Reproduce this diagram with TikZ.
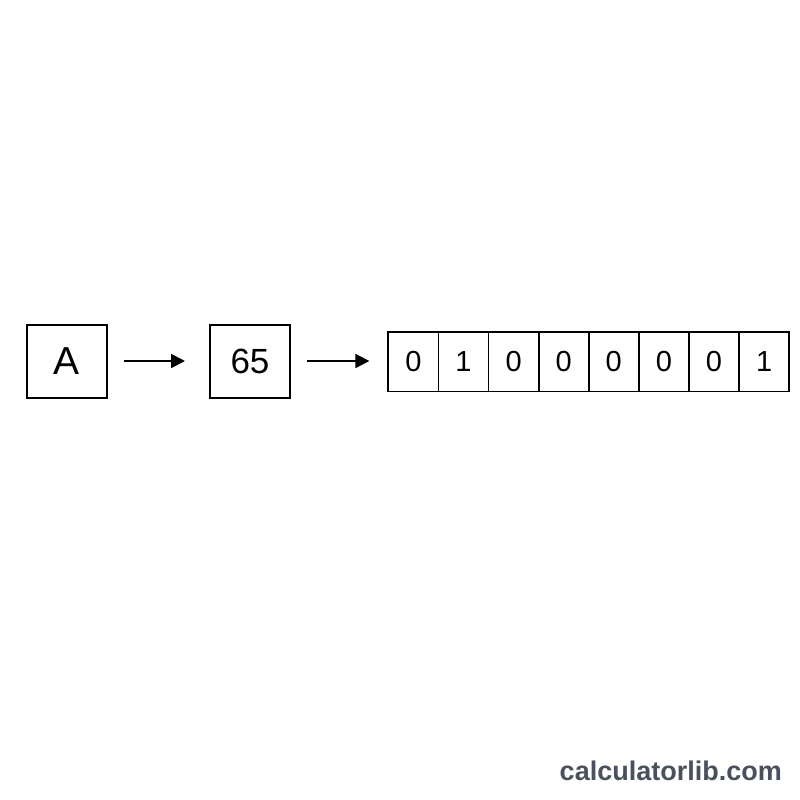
\documentclass[tikz,border=0pt]{standalone}
\usepackage{fontspec}
\setmainfont{Liberation Sans}
\usetikzlibrary{arrows.meta}
\definecolor{markgray}{HTML}{4A505E}
\begin{document}
\begin{tikzpicture}[x=1pt,y=-1pt]
\tikzset{
  charbox/.style={draw=black,line width=2pt,minimum width=80pt,minimum height=73pt,inner sep=0pt},
  bitcell/.style={draw=black,line width=1.8pt,minimum width=50.1pt,minimum height=59.5pt,inner sep=0pt,outer sep=0pt,font=\fontsize{29}{29}\selectfont},
  conv/.style={-{Triangle[length=14pt,width=14pt]},line width=1.8pt}
}
\fill [white] (0,0) rectangle (800,800);
\useasboundingbox (0,0) rectangle (800,800);
\node [charbox,font=\fontsize{39}{39}\selectfont] (A) at (66.5,361) {A};
\node [charbox,font=\fontsize{35}{35}\selectfont] (dec) at (250,361) {65};
\node [bitcell] (b1) at (413.4,361.7) {0};
\node [bitcell,anchor=west] (b2) at (b1.east) {1};
\node [bitcell,anchor=west] (b3) at (b2.east) {0};
\node [bitcell,anchor=west] (b4) at (b3.east) {0};
\node [bitcell,anchor=west] (b5) at (b4.east) {0};
\node [bitcell,anchor=west] (b6) at (b5.east) {0};
\node [bitcell,anchor=west] (b7) at (b6.east) {0};
\node [bitcell,anchor=west] (b8) at (b7.east) {1};
\draw [conv,shorten <=16pt,shorten >=24pt] (A.east) -- (dec.west);
\draw [conv,shorten <=16pt,shorten >=19pt] (dec.east) -- (b1.west |- dec.east);
\node [anchor=base east,text=markgray,font=\bfseries\fontsize{27}{27}\selectfont,inner sep=0pt] (mark) at (782,780) {calculatorlib.com};
\end{tikzpicture}
\end{document}
